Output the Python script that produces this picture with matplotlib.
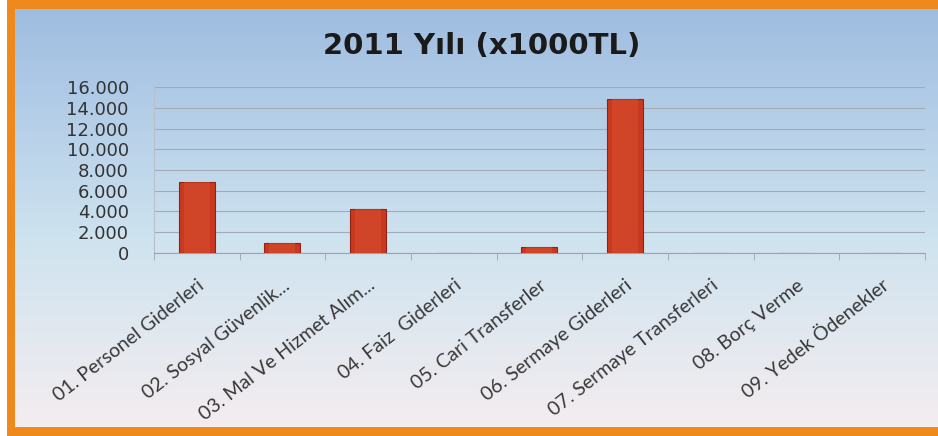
import matplotlib.pyplot as plt
import matplotlib.patches as mpatches
from matplotlib.ticker import FuncFormatter, MultipleLocator
import numpy as np

plt.rcParams['font.family'] = ['Lato', 'DejaVu Sans']

# data (x1000 TL)
categories = ['01. Personel Giderleri', '02. Sosyal Güvenlik...', '03. Mal Ve Hizmet Alım...',
              '04. Faiz  Giderleri', '05. Cari Transferler', '06. Sermaye Giderleri',
              '07. Sermaye Transferleri', '08. Borç Verme', '09. Yedek Ödenekler']
values = [6800, 1000, 4250, 0, 550, 14850, 0, 0, 0]
title = '2011 Yılı (x1000TL)'

fig = plt.figure(figsize=(9.38, 4.36), dpi=100)

# background: blue-to-white gradient with orange frame
bg = fig.add_axes([0, 0, 1, 1])
bg.set_xlim(0, 1)
bg.set_ylim(0, 1)
bg.axis('off')
top = np.array([0.62, 0.74, 0.88])
mid = np.array([0.81, 0.89, 0.94])
bot = np.array([0.96, 0.93, 0.94])
t = np.linspace(0, 1, 256)[:, None]
grad = np.where(t < 0.55, top + (mid - top) * (t / 0.55), mid + (bot - mid) * ((t - 0.55) / 0.45))
grad = np.repeat(grad[:, None, :], 2, axis=1)
bg.imshow(grad, extent=[0.012, 1.0, 0.015, 0.978], aspect='auto', origin='upper', zorder=0)
bg.add_patch(mpatches.Rectangle((0, 0), 1, 1, facecolor='white', zorder=-1))
# orange frame
orange = '#ee8a1c'
bg.add_patch(mpatches.Rectangle((0.007, 0.0), 0.009, 1.0, facecolor=orange, zorder=1))
bg.add_patch(mpatches.Rectangle((0.007, 0.98), 0.993, 0.02, facecolor=orange, zorder=1))
bg.add_patch(mpatches.Rectangle((0.007, 0.0), 0.993, 0.02, facecolor=orange, zorder=1))

fig.text(0.513, 0.895, title, ha='center', va='center', fontsize=21, fontweight='bold',
         color='#1a1a1a', family='DejaVu Sans')

ax = fig.add_axes([0.164, 0.42, 0.822, 0.38])
ax.patch.set_alpha(0)
x = np.arange(len(categories))
ax.bar(x, values, width=0.42, color='#c9381f', edgecolor='#8e2414', linewidth=0.8, zorder=3)
# light highlight on bars
ax.bar(x, values, width=0.3, color='#d8502f', linewidth=0, zorder=3, alpha=0.5)

ax.set_xlim(-0.5, len(categories) - 0.5)
ax.set_ylim(0, 16000)
ax.yaxis.set_major_locator(MultipleLocator(2000))
ax.yaxis.set_major_formatter(FuncFormatter(lambda v, p: f'{int(v):,}'.replace(',', '.')))
ax.grid(axis='y', color='#a2abb4', linewidth=0.8, zorder=0)
ax.tick_params(axis='y', length=0, labelsize=13, labelcolor='#333333', pad=18)
for lab in ax.get_yticklabels():
    lab.set_family('DejaVu Sans')

ax.set_xticks(x)
ax.set_xticklabels(categories, rotation=38, ha='right', rotation_mode='anchor',
                   fontsize=14, color='#383838')
ax.tick_params(axis='x', which='major', length=0, pad=17)
ax.set_xticks(np.arange(-0.5, len(categories)), minor=True)
ax.tick_params(axis='x', which='minor', length=5, color='#9aa4ad', direction='out')

for s in ['top', 'right']:
    ax.spines[s].set_visible(False)
ax.spines['left'].set_color('#b8c0c8')
ax.spines['bottom'].set_color('#9aa4ad')

plt.savefig('out.png', dpi=100)
plt.close()
